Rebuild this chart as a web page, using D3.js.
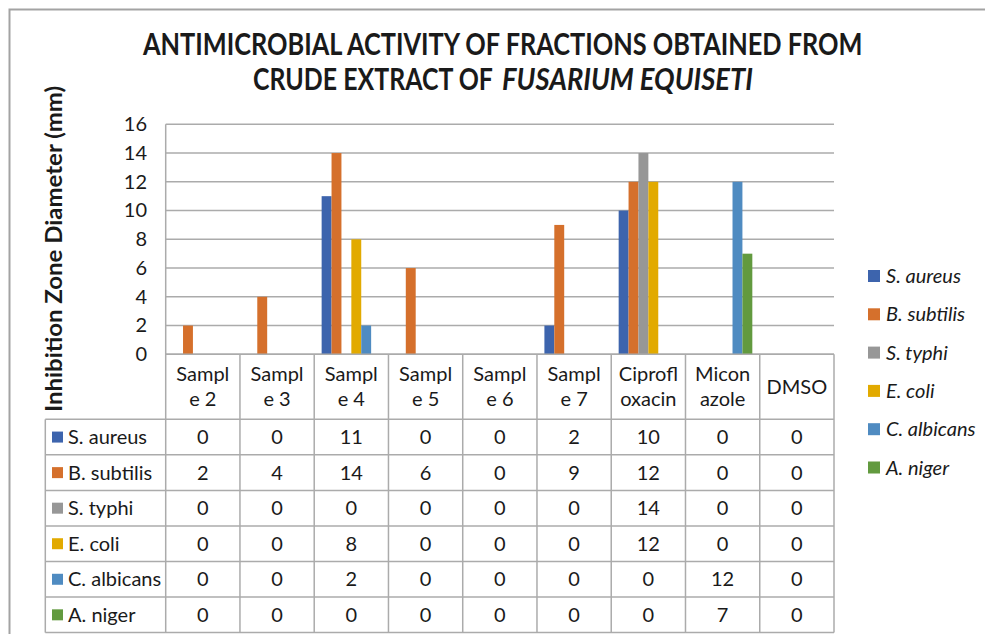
<!DOCTYPE html>
<html>
<head>
<meta charset="utf-8">
<script src="https://cdn.jsdelivr.net/npm/d3@7"></script>
<style>
  html, body { margin: 0; padding: 0; background: #fff; }
  svg { display: block; }
  text { font-family: Lato, "Open Sans", sans-serif; fill: #1a1a1a; }
</style>
</head>
<body>
<svg id="chart" width="985" height="634"></svg>
<script>
// data
var categories = ["Sample 2", "Sample 3", "Sample 4", "Sample 5", "Sample 6", "Sample 7", "Ciprofloxacin", "Miconazole", "DMSO"];
var headerLines = [["Sampl", "e 2"], ["Sampl", "e 3"], ["Sampl", "e 4"], ["Sampl", "e 5"], ["Sampl", "e 6"], ["Sampl", "e 7"], ["Ciprofl", "oxacin"], ["Micon", "azole"], ["DMSO"]];
var seriesNames = ["S. aureus", "B. subtilis", "S. typhi", "E. coli", "C. albicans", "A. niger"];
var sAureus   = [0, 0, 11, 0, 0, 2, 10, 0, 0];
var bSubtilis = [2, 4, 14, 6, 0, 9, 12, 0, 0];
var sTyphi    = [0, 0, 0, 0, 0, 0, 14, 0, 0];
var eColi     = [0, 0, 8, 0, 0, 0, 12, 0, 0];
var cAlbicans = [0, 0, 2, 0, 0, 0, 0, 12, 0];
var aNiger    = [0, 0, 0, 0, 0, 0, 0, 7, 0];
var seriesValues = [sAureus, bSubtilis, sTyphi, eColi, cAlbicans, aNiger];
var yTicks = [0, 2, 4, 6, 8, 10, 12, 14, 16];
var colors = ["#3d64ad", "#d5702c", "#979797", "#e2aa00", "#4f8bc1", "#629a3f"];

var svg = d3.select("#chart");
var gridColor = "#ababab";

// squeeze a text horizontally so it spans the given width (no narrow font installed)
function fitWidth(sel, x0, y0, width) {
    var w = sel.node().getComputedTextLength();
    sel.attr("x", 0).attr("y", 0)
        .attr("transform", "translate(" + x0 + "," + y0 + ") scale(" + (width / w) + ",1)");
}

// outer chart border
svg.append("path")
    .attr("d", "M9.5,634 L9.5,9.5 L985,9.5")
    .attr("fill", "none")
    .attr("stroke", "#a3a3a3")
    .attr("stroke-width", 2);

// title
var title = svg.append("g")
    .style("font-family", "'Liberation Sans Narrow', 'DejaVu Sans Condensed', sans-serif")
    .style("font-weight", "bold")
    .style("font-size", "30px");
fitWidth(title.append("text").text("ANTIMICROBIAL ACTIVITY OF FRACTIONS OBTAINED FROM"), 143, 55, 720);
fitWidth(title.append("text").text("CRUDE EXTRACT OF"), 253, 90, 240);
fitWidth(title.append("text").style("font-style", "italic").text("FUSARIUM EQUISETI"), 502, 90, 251);

// scales
var plot = {left: 165.7, right: 834, top: 124.3, bottom: 354.3};
var x = d3.scaleBand()
    .domain(categories)
    .range([plot.left, plot.right]);
var xs = d3.scaleBand()
    .domain(seriesNames)
    .range([0, x.bandwidth()])
    .paddingOuter(0.75);
var y = d3.scaleLinear()
    .domain([0, 16])
    .range([plot.bottom, plot.top]);

// gridlines
svg.append("g")
    .selectAll("line")
    .data(yTicks)
    .enter().append("line")
    .attr("x1", plot.left).attr("x2", plot.right)
    .attr("y1", d => y(d)).attr("y2", d => y(d))
    .attr("stroke", gridColor)
    .attr("stroke-width", 1.5);

// y axis labels
var yAxis = svg.append("g")
    .attr("transform", "translate(147,0)")
    .call(d3.axisLeft(y).tickValues(yTicks).tickSize(0).tickPadding(0));
yAxis.select(".domain").remove();
yAxis.selectAll("text")
    .style("font-family", "Lato, sans-serif")
    .style("font-size", "20px")
    .attr("fill", "#1a1a1a");

// y axis title
svg.append("text")
    .attr("transform", "translate(62,249) rotate(-90)")
    .attr("text-anchor", "middle")
    .attr("textLength", 326)
    .attr("lengthAdjust", "spacingAndGlyphs")
    .style("font-weight", "bold")
    .style("font-size", "22px")
    .text("Inhibition Zone Diameter (mm)");

// bars
var seriesG = svg.append("g")
    .selectAll("g")
    .data(seriesNames)
    .enter().append("g")
    .attr("fill", (d, i) => colors[i]);
seriesG.selectAll("rect")
    .data((d, i) => seriesValues[i].map((v, j) => ({series: d, cat: categories[j], value: v})))
    .enter().append("rect")
    .filter(d => d.value > 0)
    .attr("x", d => x(d.cat) + xs(d.series))
    .attr("width", xs.bandwidth())
    .attr("y", d => y(d.value))
    .attr("height", d => y(0) - y(d.value));

// data table
var tableLeft = 45.3;
var headerBottom = 419.3;
var rowH = 35.55;
var tableBottom = headerBottom + rowH * seriesNames.length;
var table = svg.append("g");

// horizontal lines
table.append("line")
    .attr("x1", plot.left).attr("x2", plot.right)
    .attr("y1", plot.bottom).attr("y2", plot.bottom)
    .attr("stroke", gridColor).attr("stroke-width", 1.5);
table.selectAll(".hrow")
    .data(d3.range(seriesNames.length + 1))
    .enter().append("line")
    .attr("class", "hrow")
    .attr("x1", tableLeft).attr("x2", plot.right)
    .attr("y1", d => headerBottom + d * rowH)
    .attr("y2", d => headerBottom + d * rowH)
    .attr("stroke", gridColor).attr("stroke-width", 1.5);

// vertical lines
table.append("line")
    .attr("x1", tableLeft).attr("x2", tableLeft)
    .attr("y1", headerBottom).attr("y2", tableBottom)
    .attr("stroke", gridColor).attr("stroke-width", 1.5);
table.append("line")
    .attr("x1", plot.left).attr("x2", plot.left)
    .attr("y1", plot.top).attr("y2", tableBottom)
    .attr("stroke", gridColor).attr("stroke-width", 1.5);
table.selectAll(".vcol")
    .data(categories)
    .enter().append("line")
    .attr("class", "vcol")
    .attr("x1", d => x(d) + x.bandwidth()).attr("x2", d => x(d) + x.bandwidth())
    .attr("y1", plot.bottom).attr("y2", tableBottom)
    .attr("stroke", gridColor).attr("stroke-width", 1.5);

// header text
var headerMid = (plot.bottom + headerBottom) / 2;
table.selectAll(".head")
    .data(categories)
    .enter().append("text")
    .attr("class", "head")
    .attr("text-anchor", "middle")
    .style("font-size", "20px")
    .each(function(d, i) {
        var lines = headerLines[i];
        var first = headerMid + 7 - (lines.length - 1) * 12.5;
        d3.select(this).selectAll("tspan")
            .data(lines)
            .enter().append("tspan")
            .attr("x", x(d) + x.bandwidth() / 2)
            .attr("y", (l, k) => first + k * 25)
            .text(l => l);
    });

// row labels with legend keys
var rows = table.selectAll(".row")
    .data(seriesNames)
    .enter().append("g")
    .attr("class", "row")
    .attr("transform", (d, i) => "translate(0," + (headerBottom + i * rowH + rowH / 2) + ")");
rows.append("rect")
    .attr("x", 52).attr("y", -5.5)
    .attr("width", 11).attr("height", 11)
    .attr("fill", (d, i) => colors[i]);
rows.append("text")
    .attr("x", 68).attr("y", 7)
    .style("font-size", "20px")
    .text(d => d);
rows.selectAll(".val")
    .data((d, i) => seriesValues[i].map((v, j) => ({cat: categories[j], value: v})))
    .enter().append("text")
    .attr("class", "val")
    .attr("x", d => x(d.cat) + x.bandwidth() / 2)
    .attr("y", 7)
    .attr("text-anchor", "middle")
    .style("font-size", "20px")
    .text(d => d.value);

// legend
var legend = svg.append("g")
    .selectAll("g")
    .data(seriesNames)
    .enter().append("g")
    .attr("transform", (d, i) => "translate(868," + (276 + i * 38.3) + ")");
legend.append("rect")
    .attr("x", 0).attr("y", -6)
    .attr("width", 12).attr("height", 12)
    .attr("fill", (d, i) => colors[i]);
legend.append("text")
    .attr("x", 18).attr("y", 7)
    .style("font-size", "20px")
    .style("font-style", "italic")
    .text(d => d);
</script>
</body>
</html>
